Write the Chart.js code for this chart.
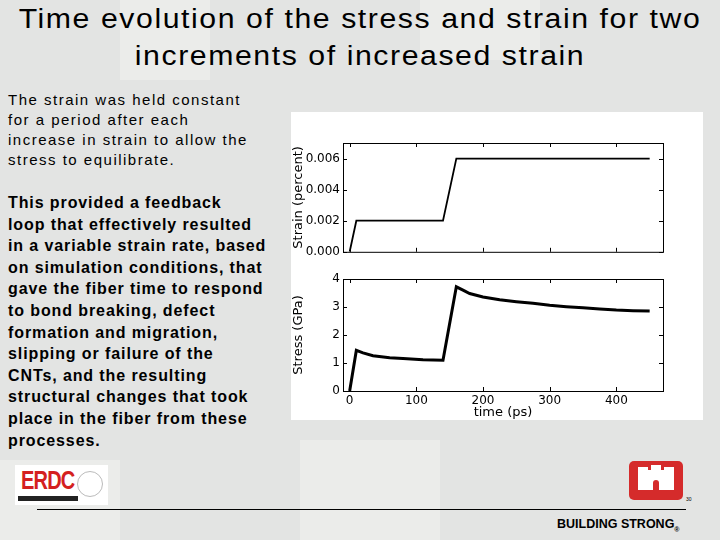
<!DOCTYPE html>
<html>
<head>
<meta charset="utf-8">
<script src="https://cdn.jsdelivr.net/npm/chart.js@4"></script>
<style>
  body { margin: 0; }
  #slide {
    position: relative; width: 720px; height: 540px; overflow: hidden;
    background: #e3e4e3; font-family: "Liberation Sans", Arial, sans-serif; color: #000;
  }
  .blk { position: absolute; background: #ebecea; }
  #title {
    position: absolute; left: 0; top: 1px; width: 720px; text-align: center;
    font-size: 27px; line-height: 37px; letter-spacing: 1.4px; white-space: nowrap;
    transform: scaleX(1.12); transform-origin: 360px 0;
  }
  #p1 { position: absolute; left: 8px; top: 90px; font-size: 15px; line-height: 20px; letter-spacing: 1.5px; white-space: nowrap; }
  #p2 { position: absolute; left: 8px; top: 192px; font-size: 16px; line-height: 21.6px; letter-spacing: 0.9px; font-weight: bold; white-space: nowrap; }
  #panel { position: absolute; left: 291px; top: 112px; width: 412px; height: 308px; background: #fff; }
  #c1 { position: absolute; left: 0; top: 0; }
  #c2 { position: absolute; left: 0; top: 150px; }
  #erdc { position: absolute; left: 15px; top: 465px; width: 93px; height: 40px; background: #fff; }
  #erdc .t { position: absolute; left: 6px; top: 1px; font: bold 25px "Liberation Sans", Arial; color: #d42020; transform: scaleX(0.8); transform-origin: left; letter-spacing: -1px; }
  #erdc .b { position: absolute; left: 3px; top: 31px; width: 60px; height: 5px; background: #222; }
  #erdc .s { position: absolute; left: 62px; top: 6px; width: 24px; height: 24px; border: 1px solid #bbb; border-radius: 50%; }
  #castle { position: absolute; left: 629px; top: 461px; width: 54px; height: 39px; background: #d52b2b; border-radius: 5px; }
  #castle .w { position: absolute; background: #fff; }
  #rule { position: absolute; left: 37px; top: 509px; width: 649px; height: 1px; background: #000; }
  #strong { position: absolute; left: 557px; top: 517px; font: bold 12.5px "Liberation Sans", Arial; }
  #pg { position: absolute; left: 686px; top: 496px; font-size: 5px; }
</style>
</head>
<body>
<div id="slide">
  <div class="blk" style="left:120px;top:0;width:90px;height:80px"></div>
  <div class="blk" style="left:420px;top:0;width:120px;height:60px"></div>
  <div class="blk" style="left:300px;top:440px;width:140px;height:100px"></div>
  <div class="blk" style="left:0;top:460px;width:120px;height:80px"></div>
  <div id="title">Time evolution of the stress and strain for two<br>increments of increased strain</div>
  <div id="p1">The strain was held constant<br>for a period after each<br>increase in strain to allow the<br>stress to equilibrate.</div>
  <div id="p2">This provided a feedback<br>loop that effectively resulted<br>in a variable strain rate, based<br>on simulation conditions, that<br>gave the fiber time to respond<br>to bond breaking, defect<br>formation and migration,<br>slipping or failure of the<br>CNTs, and the resulting<br>structural changes that took<br>place in the fiber from these<br>processes.</div>
  <div id="panel">
    <canvas id="c1" width="412" height="150"></canvas>
    <canvas id="c2" width="412" height="158"></canvas>
  </div>
  <div id="erdc"><div class="t">ERDC</div><div class="b"></div><div class="s"></div></div>
  <div id="castle">
    <div class="w" style="left:9px;top:9px;width:36px;height:20px"></div>
    <div class="w" style="left:9px;top:6px;width:10px;height:4px"></div>
    <div class="w" style="left:35px;top:6px;width:10px;height:4px"></div>
    <div class="w" style="left:22px;top:4px;width:10px;height:6px"></div>
    <div style="position:absolute;left:24px;top:19px;width:6px;height:10px;background:#d52b2b;border-radius:3px 3px 0 0"></div>
  </div>
  <div id="pg">30</div>
  <div id="rule"></div>
  <div id="strong">BUILDING STRONG<sub style="font-size:7px">®</sub></div>
</div>
<script>
// time axis (ps)
const timeTicks = [0, 100, 200, 300, 400]

// strain (percent)
const strainTime = [0, 10, 140, 160, 450]
const strainValues = [0, 0.002, 0.002, 0.006, 0.006]
const strainTicks = [0, 0.002, 0.004, 0.006]

// stress (GPa)
const stressTime = [0, 10, 20, 35, 60, 80, 110, 140, 160, 170, 180, 200, 225, 250, 275, 300, 325, 350, 375, 400, 425, 450]
const stressValues = [0, 1.45, 1.36, 1.26, 1.19, 1.16, 1.12, 1.1, 3.72, 3.6, 3.48, 3.36, 3.26, 3.19, 3.13, 3.06, 3.01, 2.97, 2.93, 2.89, 2.87, 2.86]
const stressTicks = [0, 1, 2, 3, 4]

const font = { family: 'DejaVu Sans', size: 12 }

// matplotlib-like box with inward ticks
const frame = {
  id: 'frame',
  afterDraw(chart) {
    const { ctx, chartArea: a, scales } = chart
    ctx.save()
    ctx.strokeStyle = '#000'
    ctx.lineWidth = 1
    ctx.strokeRect(a.left + 0.5, a.top + 0.5, a.right - a.left, a.bottom - a.top)
    ctx.beginPath()
    scales.x.ticks.forEach(t => {
      const px = Math.round(scales.x.getPixelForValue(t.value)) + 0.5
      ctx.moveTo(px, a.bottom); ctx.lineTo(px, a.bottom - 4)
      ctx.moveTo(px, a.top); ctx.lineTo(px, a.top + 4)
    })
    scales.y.ticks.forEach(t => {
      const py = Math.round(scales.y.getPixelForValue(t.value)) + 0.5
      ctx.moveTo(a.left, py); ctx.lineTo(a.left + 4, py)
      ctx.moveTo(a.right, py); ctx.lineTo(a.right - 4, py)
    })
    ctx.stroke()
    ctx.restore()
  }
}

function makeChart(id, xs, ys, yTicks, yMax, yTitle, showX, pad, lw) {
  return new Chart(document.getElementById(id), {
    type: 'line',
    data: {
      datasets: [{
        data: xs.map((x, i) => ({ x: x, y: ys[i] })),
        borderColor: '#000',
        borderWidth: lw,
        pointRadius: 0,
        tension: 0,
        fill: false
      }]
    },
    options: {
      responsive: false,
      animation: false,
      layout: { padding: pad },
      plugins: { legend: { display: false }, tooltip: { enabled: false } },
      scales: {
        x: {
          type: 'linear', min: -10, max: 470,
          afterBuildTicks: s => { s.ticks = timeTicks.map(v => ({ value: v })) },
          afterFit: s => { s.height = showX ? 29 : 0 },
          grid: { display: false, drawTicks: false },
          border: { display: false },
          ticks: { display: showX, color: '#000', font: font, padding: 3, maxRotation: 0 },
          title: { display: showX, text: 'time (ps)', color: '#000', font: { family: 'DejaVu Sans', size: 13 }, padding: 0 }
        },
        y: {
          min: 0, max: yMax,
          afterBuildTicks: s => { s.ticks = yTicks.map(v => ({ value: v })) },
          afterFit: s => { s.width = 52 },
          grid: { display: false, drawTicks: false },
          border: { display: false },
          ticks: {
            color: '#000', font: font, padding: 3,
            callback: v => yMax < 1 ? v.toFixed(3) : String(v)
          },
          title: { display: true, text: yTitle, color: '#000', font: { family: 'DejaVu Sans', size: 13 }, padding: 0 }
        }
      }
    },
    plugins: [frame]
  })
}

makeChart('c1', strainTime, strainValues, strainTicks, 0.007, 'Strain (percent)', false,
  { left: 0, right: 40, top: 31, bottom: 7 }, 1.8)
makeChart('c2', stressTime, stressValues, stressTicks, 4, 'Stress (GPa)', true,
  { left: 0, right: 40, top: 17, bottom: 0 }, 3)
</script>
</body>
</html>
